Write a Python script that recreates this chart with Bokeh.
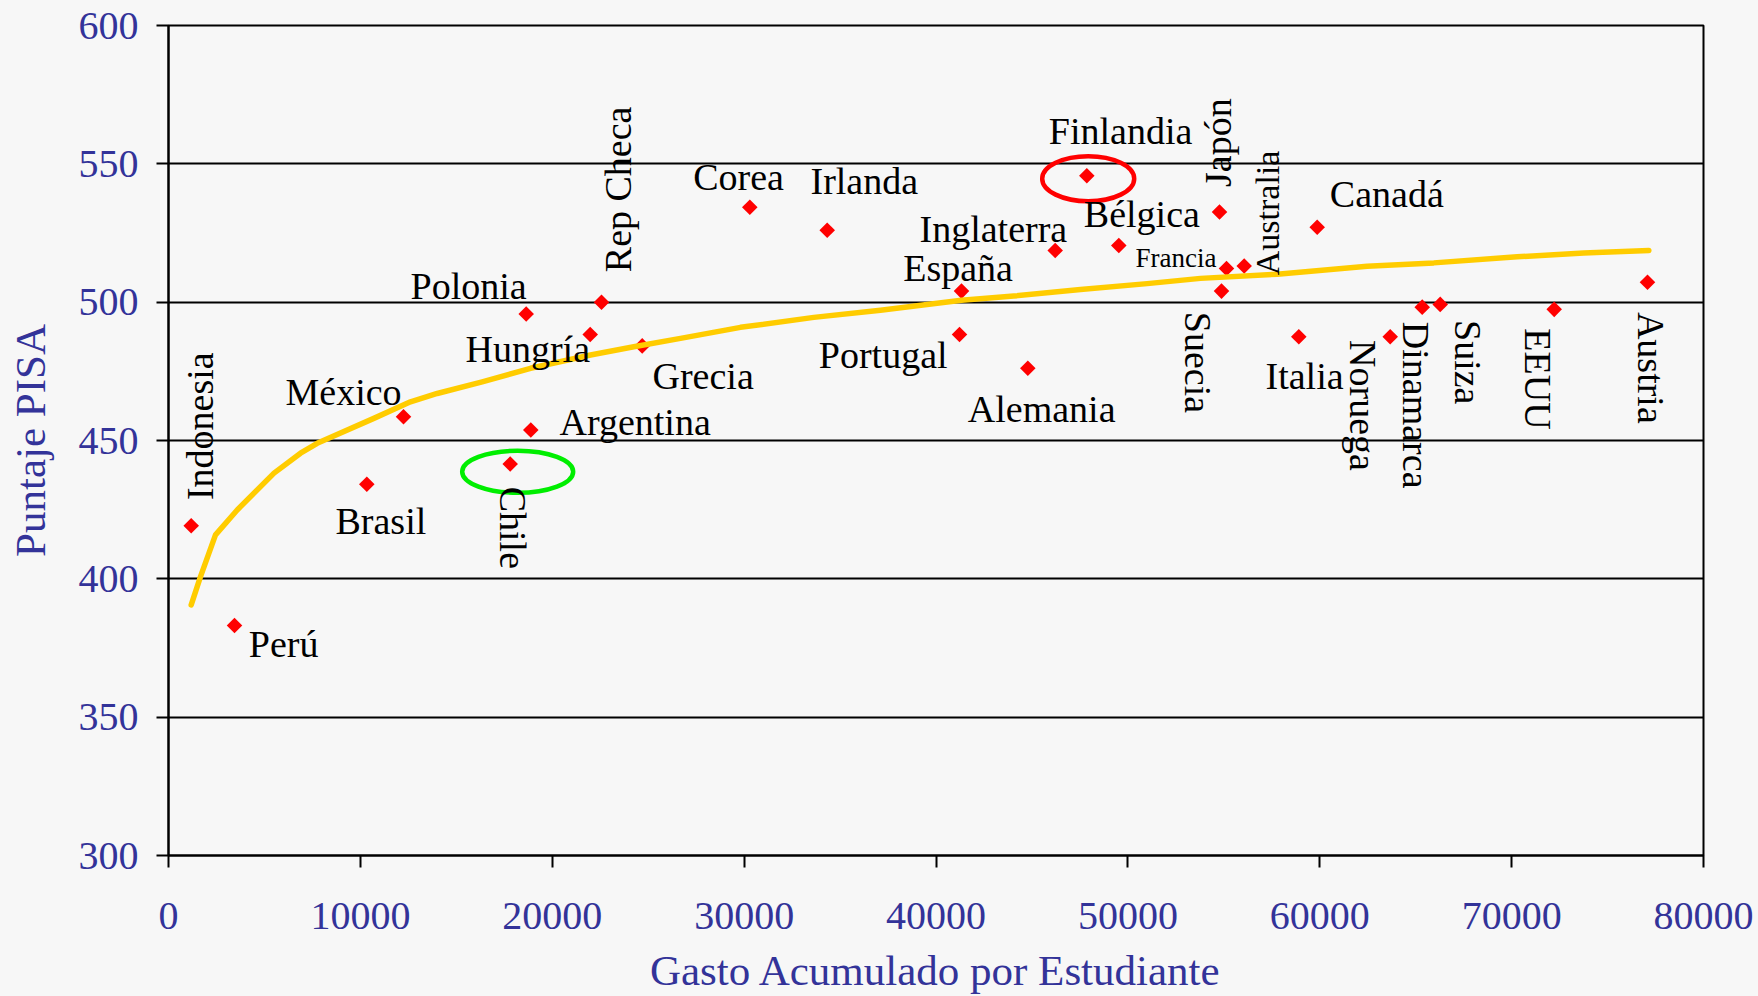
import math
from bokeh.plotting import figure
from bokeh.models import Range1d, FixedTicker, NumeralTickFormatter, ColumnDataSource
from bokeh.core.properties import value
from bokeh.embed import file_html
from bokeh.resources import INLINE

# ---------------- data ----------------
countries = ["Indonesia", "Perú", "Brasil", "México", "Chile", "Polonia", "Argentina",
             "Hungría", "Rep Checa", "Grecia", "Corea", "Irlanda", "Portugal", "España",
             "Alemania", "Inglaterra", "Finlandia", "Bélgica", "Japón", "Suecia", "Francia",
             "Australia", "Italia", "Canadá", "Noruega", "Dinamarca", "Suiza", "EEUU", "Austria"]
gasto = [1183, 3440, 10335, 12248, 17808, 18642, 18882, 21978, 22567, 24688, 30296, 34330,
         41225, 41329, 44785, 46212, 47860, 49527, 54776, 54880, 55140, 56062, 58908, 59867,
         63672, 65340, 66278, 72219, 77081]
pisa = [419.2, 383.1, 434.2, 458.6, 441.5, 495.7, 453.8, 488.3, 500.0, 484.2, 534.3, 526.0,
        488.3, 504.0, 476.1, 518.7, 545.7, 520.5, 532.6, 504.0, 512.2, 513.1, 487.5, 527.1,
        487.5, 498.2, 499.2, 497.4, 507.2]

trend_x = [1183, 1668, 2449, 3580, 5498, 6880, 7750, 10700, 12612, 14004, 16349, 18866, 21993,
           24250, 26684, 29811, 33632, 37107, 41329, 44054, 47531, 51007, 53785, 57782, 62472,
           65944, 70290, 73761, 77150]
trend_y = [390.6, 400.8, 415.9, 424.9, 438.2, 445.4, 449.0, 458.0, 464.0, 467.0, 471.2, 476.1,
           480.9, 483.9, 486.9, 490.9, 494.5, 497.1, 500.7, 502.2, 504.6, 506.7, 508.6, 510.1,
           513.0, 514.2, 516.4, 517.8, 518.7]

circled = ["Finlandia", "Chile"]

x_ticks = [0, 10000, 20000, 30000, 40000, 50000, 60000, 70000, 80000]
y_ticks = [300, 350, 400, 450, 500, 550, 600]

# ---------------- styles / label placement (screen px) ----------------
# (dx, dy, orientation, font size)  dy positive = downward; anchor = start of baseline
label_style = {
    "Indonesia": (21, -25.7, "up", 38), "Perú": (14.3, 31, "h", 38),
    "Brasil": (-31.3, 49.7, "h", 38), "México": (-118, -11.7, "h", 38),
    "Chile": (-9.7, 22.7, "down", 38), "Polonia": (-115.7, -15.7, "h", 38),
    "Argentina": (28.7, 5, "h", 38), "Hungría": (-124.7, 27.4, "h", 38),
    "Rep Checa": (29, -30, "up", 38), "Grecia": (10.3, 42.6, "h", 38),
    "Corea": (-56.6, -18, "h", 38), "Irlanda": (-16.7, -36.7, "h", 38),
    "Portugal": (-140.7, 33.4, "h", 38), "España": (-58.3, -11, "h", 38),
    "Alemania": (-60, 53.4, "h", 38), "Inglaterra": (-135.7, -8.6, "h", 38),
    "Finlandia": (-38, -32, "h", 38), "Bélgica": (-35, -18.6, "h", 38),
    "Japón": (11, -25, "up", 38), "Suecia": (-36, 20.7, "down", 38),
    "Francia": (-91, -1.6, "h", 27), "Australia": (34.6, 9.3, "up", 34),
    "Italia": (-33.3, 51.6, "h", 38), "Canadá": (12.6, -20.3, "h", 38),
    "Noruega": (-39.7, 3.3, "down", 38), "Dinamarca": (-18.4, 14.7, "down", 38),
    "Suiza": (15.3, 15.7, "down", 38), "EEUU": (-28.7, 19, "down", 38),
    "Austria": (-8.7, 29.7, "down", 38),
}
BASELINE_FIX = 0.33  # em, renderer baseline correction
ring_style = {"Finlandia": ("#ff0000", 1.4, 3, 92, 45), "Chile": ("#00ee00", 7.5, 7.7, 111, 42)}

W, H = 1758, 996
FL, FR, FT, FB = 168, 55, 25, 140
X0, X1, Y0, Y1 = 0, 80000, 300, 600
PX_X = (W - FL - FR) / (X1 - X0)
PX_Y = (H - FT - FB) / (Y1 - Y0)

SERIF = "Liberation Serif"
BLUE = "#333399"
BG = "#f7f7f7"

p = figure(width=W, height=H, output_backend="svg", toolbar_location=None,
           x_range=Range1d(X0, X1), y_range=Range1d(Y0, Y1),
           min_border_left=FL, min_border_right=FR, min_border_top=FT, min_border_bottom=FB,
           background_fill_color=BG, border_fill_color=BG)
p.outline_line_color = "black"
p.outline_line_width = 2

p.xaxis.ticker = FixedTicker(ticks=x_ticks)
p.yaxis.ticker = FixedTicker(ticks=y_ticks)
p.xaxis.formatter = NumeralTickFormatter(format="0")
p.yaxis.formatter = NumeralTickFormatter(format="0")
for ax in (p.xaxis[0], p.yaxis[0]):
    ax.axis_line_color = "black"
    ax.axis_line_width = 2
    ax.major_tick_line_color = "black"
    ax.major_tick_line_width = 2
    ax.major_tick_in = 0
    ax.major_tick_out = 12
    ax.minor_tick_line_color = None
    ax.major_label_text_font = SERIF
    ax.major_label_text_font_size = "40px"
    ax.major_label_text_color = BLUE
    ax.axis_label_text_font = SERIF
    ax.axis_label_text_font_size = "43px"
    ax.axis_label_text_font_style = "normal"
    ax.axis_label_text_color = BLUE
p.xaxis.axis_label = "Gasto Acumulado por Estudiante"
p.yaxis.axis_label = "Puntaje PISA"
p.xaxis.major_label_standoff = 35
p.xaxis.axis_label_standoff = 15
p.yaxis.major_label_standoff = 18
p.yaxis.axis_label_standoff = 22

p.xgrid.grid_line_color = None
p.ygrid.grid_line_color = "black"
p.ygrid.grid_line_width = 2

# points
src = ColumnDataSource(dict(x=gasto, y=pisa, name=countries))
p.scatter("x", "y", source=src, marker="square", size=11, angle=math.pi / 4,
          fill_color="#ff0000", line_color=None)

# trend curve
p.line(trend_x, trend_y, line_color="#ffcc00", line_width=5.5, line_join="round", line_cap="round")

# rings
for name in circled:
    col, dx, dy, w, h = ring_style[name]
    i = countries.index(name)
    p.ellipse(x=[gasto[i] + dx / PX_X], y=[pisa[i] - dy / PX_Y], width=[w], height=[h],
              width_units="screen", height_units="screen",
              fill_color=None, line_color=col, line_width=4.5)

# labels
groups = {}
for name, gx, gy in zip(countries, gasto, pisa):
    dx, dy, ori, fs = label_style[name]
    fix = BASELINE_FIX * fs
    if ori == "h":
        dy -= fix
    elif ori == "up":
        dx -= fix
    else:
        dx += fix
    key = (ori, fs)
    d = groups.setdefault(key, dict(x=[], y=[], t=[]))
    d["x"].append(gx + dx / PX_X)
    d["y"].append(gy - dy / PX_Y)
    d["t"].append(name)
angles = {"h": 0, "up": math.pi / 2, "down": -math.pi / 2}
for (ori, fs), d in groups.items():
    p.text(x=d["x"], y=d["y"], text=d["t"], angle=angles[ori],
           text_font=value(SERIF), text_font_size=f"{fs}px", text_color="black",
           text_align="left", text_baseline="alphabetic")

html = file_html(p, INLINE, title="PISA")
html = html.replace("</head>", f"<style>body{{background:{BG};}}</style></head>", 1)
open("out.html", "w").write(html)
